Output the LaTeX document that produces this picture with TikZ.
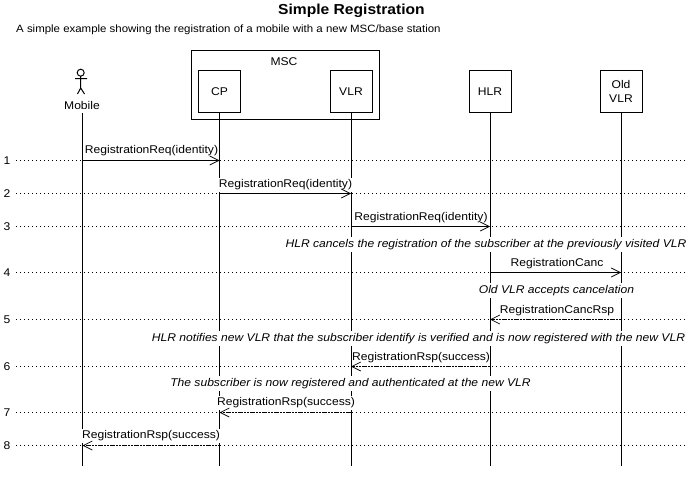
\documentclass[tikz,border=0pt]{standalone}
\usepackage{fontspec}
\setmainfont{Liberation Sans}[FakeStretch=1.08]
\usetikzlibrary{arrows.meta}
\tikzset{
  x=1pt,y=-1pt,
  lane/.style={draw=black,line width=1pt,fill=white,minimum width=42pt,minimum height=42pt,inner sep=0pt,align=center,font=\fontsize{11.2}{14.5}\selectfont},
  group/.style={draw=black,line width=1pt,fill=white,inner sep=0pt},
  life/.style={draw=black,line width=1pt},
  rowline/.style={draw=black,line width=1pt,dash pattern=on 1pt off 3pt},
  rownum/.style={inner sep=0pt,yshift=-1pt,font=\fontsize{11.2}{13}\selectfont},
  msg/.style={inner sep=0pt,fill=white,minimum height=14pt,yshift=-1.5pt,font=\fontsize{11.2}{13}\selectfont},
  note/.style={inner sep=0pt,fill=white,minimum height=15pt,yshift=-1.5pt,font=\fontsize{11.2}{13}\selectfont\itshape},
  call/.style={draw=black,line width=1pt,-{Straight Barb[length=9pt,width=9pt,line width=.7pt]}},
  reply/.style={call,dash pattern=on 2pt off 1pt}
}
\begin{document}
\begin{tikzpicture}
\useasboundingbox (0,0) rectangle (689,487);
\fill[white] (0,0) rectangle (689,487);
\node[anchor=center,font=\fontsize{14.45}{17}\selectfont\bfseries,inner sep=0pt] (title) at (351.5,11) {Simple Registration};
\node[anchor=west,font=\fontsize{10.6}{13}\selectfont,inner sep=0pt] (sub) at (16,29.5) {A simple example showing the registration of a mobile with a new MSC/base station};
% rows
\foreach \n/\y in {1/160,2/193,3/226,4/272,5/319,6/366,7/412,8/445}{
  \coordinate (r\n) at (16,\y+.5);
  \coordinate (re\n) at (688,\y+.5);
  \draw[rowline] (r\n) -- (re\n);
  \node[rownum] (num\n) at (7,\y) {\n};
}
% header
\node[group,minimum width=188pt,minimum height=69pt] (msc) at (285.3,85.5) {};
\node[inner sep=0pt,font=\fontsize{11.2}{13}\selectfont] (msclabel) at (284,62) {MSC};
\node[lane] (cp) at (219.5,91.3) {CP};
\node[lane] (vlr) at (351,91.3) {VLR};
\node[lane] (hlr) at (490,91.3) {HLR};
\node[lane] (old) at (621,91.3) {Old\\VLR};
\node[inner sep=0pt,font=\fontsize{11.2}{13}\selectfont] (mob) at (82,105.5) {Mobile};
\coordinate (mobtop) at (82.5,113);
\coordinate (bot) at (0,466);
% actor
\draw[line width=1pt] (80.7,72.7) circle (3.5)
  (80.7,76.2) -- (80.7,88)
  (75,78.7) -- (87,78.7)
  (80.7,88) -- (77.5,94)
  (80.7,88) -- (84.5,94);
% lifelines
\draw[life] (mobtop) -- (mobtop |- bot);
\foreach \a in {cp,vlr,hlr,old}{
  \draw[life] (\a.south) -- (\a |- bot);
}
% notes and labels
\node[note] (n1) at (486,243) {HLR cancels the registration of the subscriber at the previously visited VLR};
\node[note] (n2) at (556.5,289) {Old VLR accepts cancelation};
\node[note] (n3) at (418.5,337) {HLR notifies new VLR that the subscriber identify is verified and is now registered with the new VLR};
\node[note] (n4) at (350.5,382) {The subscriber is now registered and authenticated at the new VLR};
\node[msg] (m1) at (151.5,149.5) {RegistrationReq(identity)};
\node[msg] (m2) at (285.5,183) {RegistrationReq(identity)};
\node[msg] (m3) at (421,216) {RegistrationReq(identity)};
\node[msg] (m4) at (557,262) {RegistrationCanc};
\node[msg] (m5) at (557,309) {RegistrationCancRsp};
\node[msg] (m6) at (421,356) {RegistrationRsp(success)};
\node[msg] (m7) at (286,401) {RegistrationRsp(success)};
\node[msg] (m8) at (151,434) {RegistrationRsp(success)};
% messages
\draw[call] (mobtop |- r1) -- (cp |- r1);
\draw[call] (cp |- r2) -- (vlr |- r2);
\draw[call] (vlr |- r3) -- (hlr |- r3);
\draw[call] (hlr |- r4) -- (old |- r4);
\draw[reply] (old |- r5) -- (hlr |- r5);
\draw[reply] (hlr |- r6) -- (vlr |- r6);
\draw[reply] (vlr |- r7) -- (cp |- r7);
\draw[reply] (cp |- r8) -- (mobtop |- r8);
\end{tikzpicture}
\end{document}
